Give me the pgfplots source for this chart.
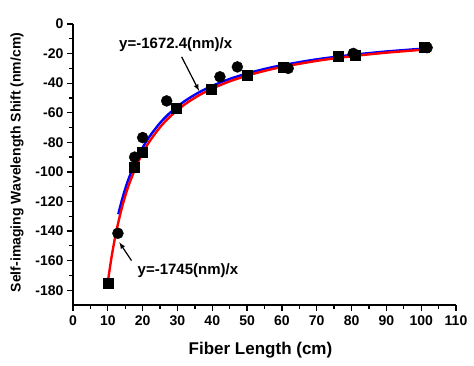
\documentclass[border=0pt]{standalone}
\usepackage{fontspec}
\setmainfont{Liberation Sans}
\usepackage{pgfplots}
\pgfplotsset{compat=1.18}
\begin{document}
\begin{tikzpicture}[x=1pt,y=1pt]
\useasboundingbox (-73,-60) rectangle (401,305);
\begin{axis}[
  name=ax, at={(0,0)}, anchor=south west,
  scale only axis, width=383pt, height=281pt,
  xmin=0, xmax=110, ymin=-190, ymax=0,
  axis lines=left, axis line style={-, line width=1.6pt},
  xtick={0,10,...,110}, ytick={-180,-160,...,0},
  minor x tick num=1, minor y tick num=1,
  tick align=outside,
  major tick length=6pt, minor tick length=4pt,
  every tick/.style={line width=1.3pt, black},
  /pgf/number format/assume math mode=true,
  tick label style={font=\bfseries\fontsize{14}{14}\selectfont},
  xticklabel style={yshift=-1pt},
  xlabel={\bfseries\fontsize{17}{17}\selectfont Fiber Length (cm)},
  ylabel={\bfseries\fontsize{14}{14}\selectfont Self-imaging Wavelength Shift (nm/cm)},
  xlabel style={at={(axis description cs:0.5,0)}, anchor=center, yshift=-45pt, xshift=-4pt},
  ylabel style={at={(axis description cs:0,0.5)}, anchor=center, yshift=56pt, xshift=2pt},
  clip=false,
]
% squares
\addplot[only marks, mark=square*, mark size=5pt, black] coordinates {
(10,-175) (17.7,-97) (19.9,-86.6) (29.7,-57) (39.8,-44) (50,-34.6)
(60.4,-29) (76.2,-21.7) (81,-21) (101,-16)};
% circles
\addplot[only marks, mark=*, mark size=5.5pt, black] coordinates {
(12.9,-141.5) (17.7,-90) (20,-76.8) (26.9,-52) (42.2,-35.7) (47.2,-29)
(61.8,-30) (80.5,-19.9) (101.7,-16)};
% blue fit
\addplot[blue, line width=2.4pt, smooth] coordinates {
(13,-128.65) (14,-119.46) (15,-111.49) (16,-104.53) (18,-92.91) (20,-83.62)
(22,-76.02) (25,-66.90) (28,-59.73) (32,-52.26) (36,-46.46) (40,-41.81)
(45,-37.16) (50,-33.45) (55,-30.41) (60,-27.87) (70,-23.89) (80,-20.91)
(90,-18.58) (102,-16.40)};
% red fit
\addplot[red, line width=2.4pt, smooth] coordinates {
(10,-174.5) (11,-158.64) (12,-145.42) (13,-134.23) (14,-124.64) (15,-116.33)
(16,-109.06) (18,-96.94) (20,-87.25) (22,-79.32) (25,-69.8) (28,-62.32)
(32,-54.53) (36,-48.47) (40,-43.63) (45,-38.78) (50,-34.9) (55,-31.73)
(60,-29.08) (70,-24.93) (80,-21.81) (90,-19.39) (102,-17.11)};
\node[font=\bfseries\fontsize{15}{15}\selectfont] at (axis cs:29.5,-14.2) {y=-1672.4(nm)/x};
\draw[-latex, line width=1.2pt] (axis cs:31.2,-22.2) -- (axis cs:36.2,-45.2);
\node[font=\bfseries\fontsize{15}{15}\selectfont] at (axis cs:33,-166.8) {y=-1745(nm)/x};
\draw[-latex, line width=1.2pt] (axis cs:16.8,-160) -- (axis cs:13.3,-147.6);
\end{axis}
\end{tikzpicture}
\end{document}
